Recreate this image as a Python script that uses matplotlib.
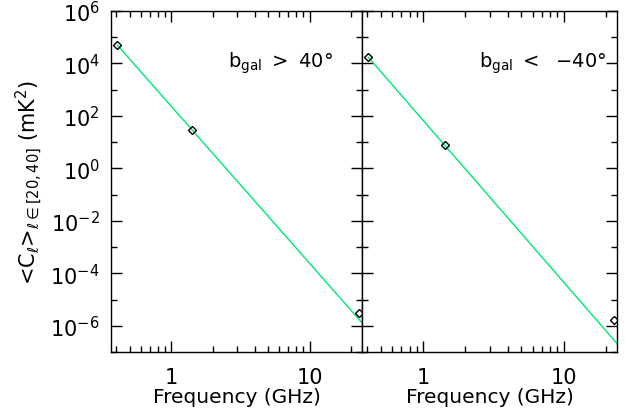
import numpy as np
import matplotlib
matplotlib.use("Agg")
import matplotlib.pyplot as plt
from matplotlib.ticker import FixedLocator, NullFormatter, LogLocator, FixedFormatter

# Data
freq_ghz = [0.408, 1.42, 22.8]
cl_north = [5.0e4, 30.0, 3.0e-6]     # b_gal > 40
cl_south = [1.7e4, 7.5, 1.6e-6]      # b_gal < -40
fit_freq = [0.408, 23.94]            # power-law fit drawn from first point to edge
fit_north = [5.0e4, 1.3e-6]
fit_south = [1.7e4, 2.1e-7]
xlim = [0.367, 23.94]
ylim = [1.0e-7, 1.0e6]
ytick_vals = [1e-6, 1e-4, 1e-2, 1e0, 1e2, 1e4, 1e6]
ytick_labels = [r'10$^{-6}$', r'10$^{-4}$', r'10$^{-2}$', r'10$^{0}$', r'10$^{2}$', r'10$^{4}$', r'10$^{6}$']
yminor_vals = [1e-7, 1e-5, 1e-3, 1e-1, 1e1, 1e3, 1e5]
xtick_vals = [1, 10]
xtick_labels = ['1', '10']
labels = [r'b$_{\rm gal}$ $>$ 40°', r'b$_{\rm gal}$ $<$  $-$40°']
label_x = [0.885, 0.96]

plt.rcParams['font.family'] = ['DejaVu Sans']
plt.rcParams['mathtext.fontset'] = 'dejavusans'

W, H = 634, 414
fig = plt.figure(figsize=(W / 100, H / 100), dpi=100)
x0, xm, x1 = 111, 362, 617
ytop, ybot = 12, 353
ax1 = fig.add_axes([x0 / W, 1 - ybot / H, (xm - x0) / W, (ybot - ytop) / H])
ax2 = fig.add_axes([xm / W, 1 - ybot / H, (x1 - xm) / W, (ybot - ytop) / H])

green = '#00e676'
for ax, cl, fit, lab, lx in [(ax1, cl_north, fit_north, labels[0], label_x[0]),
                             (ax2, cl_south, fit_south, labels[1], label_x[1])]:
    ax.set_xscale('log')
    ax.set_yscale('log')
    ax.plot(fit_freq, fit, color=green, lw=1.0, zorder=2)
    ax.plot(freq_ghz, cl, linestyle='none', marker='D', markersize=4.5,
            markerfacecolor='none', markeredgecolor='black', markeredgewidth=1.0, zorder=3)
    ax.set_xlim(xlim)
    ax.set_ylim(ylim)
    ax.xaxis.set_major_locator(FixedLocator(xtick_vals))
    ax.xaxis.set_major_formatter(FixedFormatter(xtick_labels))
    ax.xaxis.set_minor_locator(LogLocator(base=10, subs=np.arange(2, 10)))
    ax.xaxis.set_minor_formatter(NullFormatter())
    ax.yaxis.set_major_locator(FixedLocator(ytick_vals))
    ax.yaxis.set_minor_locator(FixedLocator(yminor_vals))
    ax.yaxis.set_minor_formatter(NullFormatter())
    ax.tick_params(which='both', direction='in', top=True, right=True, width=1.0, colors='black')
    ax.tick_params(which='major', length=8, labelsize=15)
    ax.tick_params(axis='x', which='major', pad=11)
    ax.tick_params(axis='y', which='major', pad=8)
    ax.tick_params(which='minor', length=4)
    for s in ax.spines.values():
        s.set_linewidth(1.0)
    ax.set_xlabel('Frequency (GHz)', fontsize=14.5, labelpad=0)
    ax.text(lx, 0.85, lab, transform=ax.transAxes, ha='right', va='center', fontsize=14)

ax1.yaxis.set_major_formatter(FixedFormatter(ytick_labels))
ax2.yaxis.set_major_formatter(NullFormatter())
ax1.set_ylabel(r'<C$_{\ell}$>$_{\ell\in[20,40]}$ (mK$^2$)', fontsize=15, labelpad=4)

fig.savefig('out.png', dpi=100)
